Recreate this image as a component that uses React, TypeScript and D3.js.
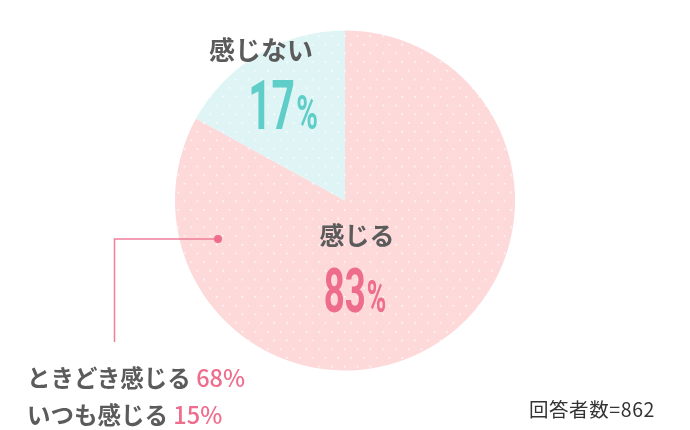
import React, { useEffect, useRef } from "react";
import * as d3 from "d3";

const categories = ["感じる", "感じない"];
const values = [83, 17];
const subLabels = ["ときどき感じる", "いつも感じる"];
const subValues = [68, 15];
const respondents = 862;

const fills = ["#fdd9da", "#def4f5"];
const numColors = ["#ef6d8c", "#5fcdc8"];
const textGray = "#5b5b5b";
const jp = "'Noto Sans CJK JP', sans-serif";
const num = "Roboto, sans-serif";

const App = () => {
  const svgRef = useRef<SVGSVGElement | null>(null);

  useEffect(() => {
    const width = 690;
    const height = 430;
    const cx = 345;
    const cy = 200.5;
    const radius = 170;

    const svg = d3.select(svgRef.current)
      .attr("width", width)
      .attr("height", height);
    svg.selectAll("*").remove();

    // dot pattern over the slices
    const defs = svg.append("defs");
    fills.forEach((c, i) => {
      const p = defs.append("pattern")
        .attr("id", `dots${i}`)
        .attr("patternUnits", "userSpaceOnUse")
        .attr("x", cx - 0.5)
        .attr("y", cy - 0.5)
        .attr("width", 12.8)
        .attr("height", 17.4);
      p.append("rect").attr("width", 12.8).attr("height", 17.4).attr("fill", c);
      p.append("rect").attr("x", 0).attr("y", 0).attr("width", 1.6).attr("height", 1.6)
        .attr("fill", "#fff").attr("opacity", 0.85);
      p.append("rect").attr("x", 6.4).attr("y", 8.7).attr("width", 1.6).attr("height", 1.6)
        .attr("fill", "#fff").attr("opacity", 0.85);
    });

    const pie = d3.pie<number>().sort(null).value((d) => d);
    const arc = d3.arc<d3.PieArcDatum<number>>().innerRadius(0).outerRadius(radius);

    const g = svg.append("g").attr("transform", `translate(${cx},${cy})`);
    g.selectAll("path")
      .data(pie(values))
      .enter()
      .append("path")
      .attr("d", arc)
      .attr("fill", (_, i) => `url(#dots${i})`);

    // slice labels
    const labelPos = [
      { x: 357, y: 245, nx: 355, ny: 312, size: 61, fs: 25 },
      { x: 261, y: 60, nx: 283, ny: 129, size: 68, fs: 26 },
    ];
    categories.forEach((c, i) => {
      const p = labelPos[i];
      svg.append("text")
        .attr("x", p.x).attr("y", p.y)
        .attr("text-anchor", "middle")
        .attr("font-family", jp).attr("font-weight", 700)
        .attr("font-size", p.fs).attr("fill", textGray)
        .text(c);
      const t = svg.append("text")
        .attr("transform", `translate(${p.nx},${p.ny}) scale(0.6,1)`)
        .attr("text-anchor", "middle")
        .attr("font-family", num).attr("font-weight", 700)
        .attr("fill", numColors[i]);
      t.append("tspan").attr("font-size", p.size).text(values[i]);
      t.append("tspan").attr("font-size", p.size * 0.72).attr("dx", 2).text("%");
    });

    // leader line
    svg.append("path")
      .attr("d", "M218,239 H114.5 V342")
      .attr("fill", "none")
      .attr("stroke", "#f07f99")
      .attr("stroke-width", 1.5);
    svg.append("circle").attr("cx", 218).attr("cy", 239).attr("r", 4).attr("fill", "#ef6d8c");

    subLabels.forEach((s, i) => {
      const t = svg.append("text")
        .attr("x", 27).attr("y", 387 + i * 37)
        .attr("font-family", jp).attr("font-weight", 700)
        .attr("font-size", 23.5);
      t.append("tspan").attr("fill", textGray).text(s + " ");
      t.append("tspan").attr("fill", "#ef6d8c").attr("font-weight", 500).text(`${subValues[i]}%`);
    });

    svg.append("text")
      .attr("x", 655).attr("y", 417)
      .attr("text-anchor", "end")
      .attr("font-family", jp)
      .attr("font-size", 19.5).attr("fill", "#333")
      .attr("letter-spacing", 0.6)
      .text(`回答者数=${respondents}`);
  }, []);

  return (
    <svg ref={svgRef} style={{ position: "fixed", left: 0, top: 0, display: "block" }}></svg>
  );
};

export default App;
